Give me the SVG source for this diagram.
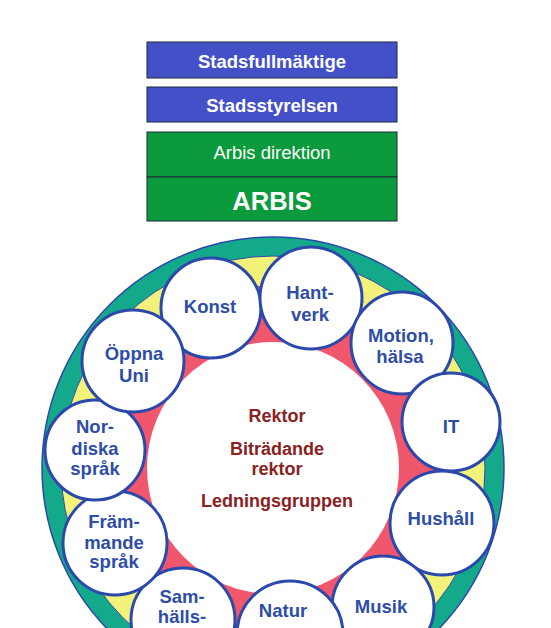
<svg xmlns="http://www.w3.org/2000/svg" width="551" height="628" viewBox="0 0 551 628">
<style>
.box{stroke:#1a2a3a;stroke-width:1}
.blue{fill:#4350C8}
.green{fill:#0B9A3C}
.bt{font-family:"Liberation Sans",Arial,sans-serif;fill:#fff;text-anchor:middle}
.node circle{fill:#fff;stroke:#2B48AC;stroke-width:3}
.nt{font-family:"Liberation Sans",Arial,sans-serif;font-weight:bold;font-size:18.5px;fill:#2E4DA6;text-anchor:middle}
.ct{font-family:"Liberation Sans",Arial,sans-serif;font-weight:bold;font-size:18px;fill:#8A2222;text-anchor:middle}
</style>
<rect width="551" height="628" fill="#fff"/>
<g id="stadsfullmaktige"><rect class="box blue" x="147" y="42" width="250" height="36"/><text class="bt" x="272" y="68" font-size="18.5" font-weight="bold">Stadsfullmäktige</text></g>
<g id="stadsstyrelsen"><rect class="box blue" x="147" y="87" width="250" height="35"/><text class="bt" x="272" y="112" font-size="18.5" font-weight="bold">Stadsstyrelsen</text></g>
<g id="arbis-direktion"><rect class="box green" x="147" y="132" width="250" height="45"/><text class="bt" x="272" y="159" font-size="18.5">Arbis direktion</text></g>
<g id="arbis"><rect class="box green" x="147" y="177" width="250" height="44"/><text class="bt" x="272" y="210" font-size="25.5" font-weight="bold">ARBIS</text></g>
<g id="rings">
<circle cx="273" cy="468" r="231" fill="#15A98B" stroke="#2B48AC" stroke-width="1.5"/>
<circle cx="273" cy="468" r="212" fill="#F2F27A" stroke="#2B48AC" stroke-width="1"/>
<circle cx="273" cy="468" r="182" fill="#F0566C" stroke="#5a3a6a" stroke-width="0.8"/>
<circle cx="273" cy="468" r="126" fill="#fff"/>
</g>
<g id="connectors"></g>
<g id="center">
<text class="ct" x="277" y="422">Rektor</text>
<text class="ct" x="277" y="455">Biträdande</text>
<text class="ct" x="277" y="475">rektor</text>
<text class="ct" x="277" y="507">Ledningsgruppen</text>
</g>
<g id="konst" class="node"><circle cx="211" cy="308" r="50"/><text class="nt" x="210" y="313">Konst</text></g>
<g id="hantverk" class="node"><circle cx="311" cy="298" r="51"/><text class="nt" x="310" y="299">Hant-</text><text class="nt" x="310" y="321">verk</text></g>
<g id="motion" class="node"><circle cx="402" cy="343" r="51"/><text class="nt" x="401" y="342">Motion,</text><text class="nt" x="400" y="363">hälsa</text></g>
<g id="it" class="node"><circle cx="451" cy="422" r="49"/><text class="nt" x="451" y="433">IT</text></g>
<g id="hushall" class="node"><circle cx="442" cy="523" r="52"/><text class="nt" x="441" y="525">Hushåll</text></g>
<g id="musik" class="node"><circle cx="383" cy="607" r="51"/><text class="nt" x="381" y="613">Musik</text></g>
<g id="natur" class="node"><circle cx="290" cy="634" r="53"/><text class="nt" x="283" y="617">Natur</text><text class="nt" x="283" y="641">vetenskap</text></g>
<g id="samhalls" class="node"><circle cx="183" cy="620" r="52"/><text class="nt" x="182" y="603">Sam-</text><text class="nt" x="182" y="623">hälls-</text></g>
<g id="frammande" class="node"><circle cx="115" cy="543" r="52"/><text class="nt" x="114" y="528">Främ-</text><text class="nt" x="114" y="549">mande</text><text class="nt" x="114" y="568">språk</text></g>
<g id="nordiska" class="node"><circle cx="95" cy="450" r="50"/><text class="nt" x="95" y="433">Nor-</text><text class="nt" x="95" y="455">diska</text><text class="nt" x="95" y="475">språk</text></g>
<g id="oppna" class="node"><circle cx="133" cy="361" r="51"/><text class="nt" x="134" y="360">Öppna</text><text class="nt" x="134" y="382">Uni</text></g>
</svg>
